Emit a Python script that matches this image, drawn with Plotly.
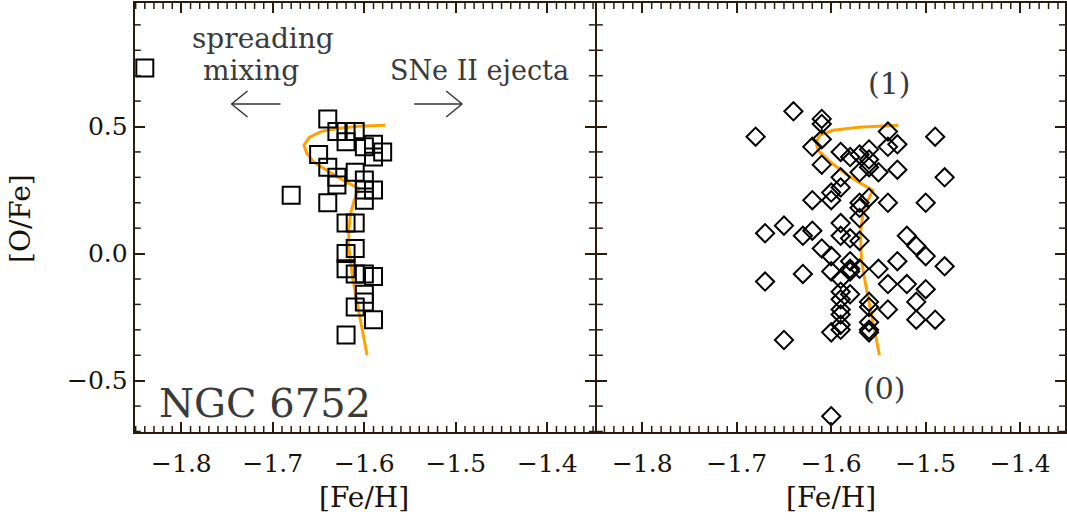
import plotly.graph_objects as go

# ---- left panel: NGC 6752 stars ----
feh_left = [-1.64, -1.63, -1.62, -1.61, -1.62, -1.60, -1.59, -1.58, -1.59, -1.65,
            -1.64, -1.63, -1.63, -1.61, -1.60, -1.60, -1.59, -1.60, -1.64, -1.68,
            -1.62, -1.61, -1.62, -1.61, -1.62, -1.61, -1.60, -1.59, -1.60, -1.60,
            -1.61, -1.59, -1.62, -1.84]
ofe_left = [0.53, 0.48, 0.48, 0.48, 0.44, 0.42, 0.43, 0.40, 0.38, 0.39,
            0.34, 0.30, 0.27, 0.32, 0.29, 0.25, 0.25, 0.21, 0.20, 0.23,
            0.12, 0.12, 0.00, 0.02, -0.06, -0.08, -0.08, -0.09, -0.16, -0.19,
            -0.21, -0.26, -0.32, 0.73]

# model track, left panel
model_left_feh = [-1.577, -1.606, -1.627, -1.646, -1.660, -1.666, -1.663, -1.655,
                  -1.638, -1.620, -1.606, -1.611, -1.615, -1.617, -1.617, -1.613,
                  -1.607, -1.598, -1.597]
model_left_ofe = [0.505, 0.501, 0.493, 0.482, 0.458, 0.426, 0.395, 0.359,
                  0.321, 0.282, 0.256, 0.210, 0.159, 0.092, 0.026, -0.092,
                  -0.210, -0.374, -0.400]

# ---- right panel: simulated stars ----
feh_right = [-1.64, -1.68, -1.61, -1.61, -1.61, -1.62, -1.61, -1.59, -1.58, -1.57,
             -1.57, -1.59, -1.59, -1.60, -1.60, -1.62, -1.57, -1.67, -1.65, -1.63,
             -1.62, -1.59, -1.59, -1.58, -1.57, -1.57, -1.57, -1.61, -1.60, -1.60,
             -1.59, -1.58, -1.58, -1.57, -1.58, -1.67, -1.63, -1.59, -1.58, -1.59,
             -1.59, -1.59, -1.59, -1.60, -1.59, -1.65, -1.60, -1.56, -1.56,
             -1.54, -1.49, -1.53, -1.54, -1.56, -1.56, -1.55, -1.53, -1.48, -1.56,
             -1.54, -1.50, -1.56, -1.52, -1.51, -1.50, -1.48, -1.53, -1.55, -1.54,
             -1.52, -1.50, -1.51, -1.56, -1.54, -1.51, -1.49, -1.56, -1.56]
ofe_right = [0.56, 0.46, 0.53, 0.51, 0.45, 0.42, 0.35, 0.40, 0.38, 0.39,
             0.32, 0.30, 0.26, 0.24, 0.21, 0.21, 0.20, 0.08, 0.11, 0.07,
             0.09, 0.12, 0.07, 0.06, 0.05, 0.18, 0.14, 0.02, -0.01, -0.07,
             -0.10, -0.06, -0.07, -0.06, -0.03, -0.11, -0.08, -0.15, -0.16, -0.18,
             -0.22, -0.24, -0.28, -0.31, -0.30, -0.34, -0.64, -0.21, -0.30,
             0.48, 0.46, 0.43, 0.42, 0.41, 0.37, 0.32, 0.33, 0.30, 0.34,
             0.20, 0.20, 0.22, 0.07, 0.03, -0.01, -0.05, -0.03, -0.06, -0.12,
             -0.12, -0.14, -0.19, -0.19, -0.22, -0.26, -0.26, -0.27, -0.31]

# model track, right panel
model_right_feh = [-1.529, -1.571, -1.598, -1.612, -1.616, -1.614, -1.603, -1.587,
                   -1.571, -1.556, -1.561, -1.566, -1.569, -1.568, -1.563, -1.556,
                   -1.549]
model_right_ofe = [0.505, 0.497, 0.485, 0.466, 0.438, 0.407, 0.367, 0.320,
                   0.281, 0.249, 0.210, 0.171, 0.080, -0.026, -0.133, -0.263,
                   -0.400]

x_ticks = [-1.8, -1.7, -1.6, -1.5, -1.4]
x_tick_text = ["\u22121.8", "\u22121.7", "\u22121.6", "\u22121.5", "\u22121.4"]
y_ticks = [-0.5, 0.0, 0.5]
y_tick_text = ["\u22120.5", "0.0", "0.5"]

W, H = 1067, 523
FONT = "DejaVu Serif"
AX = "#2a1c0c"
ORANGE = "#ffa200"


def px(x):
    return x / W


def py(y):
    return 1 - y / H


fig = go.Figure()

fig.add_trace(go.Scatter(x=model_left_feh, y=model_left_ofe, mode="lines",
                         line=dict(color=ORANGE, width=3), xaxis="x", yaxis="y",
                         showlegend=False, hoverinfo="skip"))
fig.add_trace(go.Scatter(x=feh_left, y=ofe_left, mode="markers",
                         marker=dict(symbol="square-open", size=17, color="black",
                                     line=dict(width=2, color="black")),
                         xaxis="x", yaxis="y", showlegend=False, cliponaxis=False))
fig.add_trace(go.Scatter(x=model_right_feh, y=model_right_ofe, mode="lines",
                         line=dict(color=ORANGE, width=3), xaxis="x2", yaxis="y2",
                         showlegend=False, hoverinfo="skip"))
fig.add_trace(go.Scatter(x=feh_right, y=ofe_right, mode="markers",
                         marker=dict(symbol="diamond-open", size=14, color="black",
                                     line=dict(width=2, color="black")),
                         xaxis="x2", yaxis="y2", showlegend=False, cliponaxis=False))

tickfont = dict(family=FONT, size=25, color="#1a1208")
frame = dict(showline=True, linecolor=AX, linewidth=2, mirror="ticks",
             showgrid=False, zeroline=False, ticks="inside", tickcolor=AX,
             ticklen=10, tickwidth=2, tickfont=tickfont)

XL = [px(135), px(596)]
XR = [px(598), 1.0]
YD = [py(432), py(3)]
RX_L = [-1.851, -1.348]
RX_R = [-1.848, -1.3526]
RY = [-0.702, 0.986]

fig.update_layout(
    width=W, height=H,
    margin=dict(l=0, r=0, t=0, b=0),
    paper_bgcolor="white", plot_bgcolor="white",
    xaxis=dict(domain=XL, range=RX_L, anchor="y", tickmode="array",
               tickvals=x_ticks, ticktext=x_tick_text, ticklabelstandoff=8, **frame),
    xaxis2=dict(domain=XR, range=RX_R, anchor="y2", tickmode="array",
                tickvals=x_ticks, ticktext=x_tick_text, ticklabelstandoff=8, **frame),
    yaxis=dict(domain=YD, range=RY, anchor="x", tickmode="array",
               tickvals=y_ticks, ticktext=y_tick_text, **frame),
    yaxis2=dict(domain=YD, range=RY, anchor="x2", tickmode="array",
                tickvals=y_ticks, ticktext=y_tick_text, showticklabels=False,
                **{k: v for k, v in frame.items() if k != "tickfont"}),
)

# minor ticks drawn along every side of both frames
plot_w = {"x": XL[1] - XL[0], "x2": XR[1] - XR[0]}
plot_h = (YD[1] - YD[0]) * H
minor_len = 6
for xa, ya, rng in [("x", "y", RX_L), ("x2", "y2", RX_R)]:
    xv = [round(-1.86 + 0.01 * i, 2) for i in range(52)]
    xv = [v for v in xv if rng[0] < v < rng[1] and round(v * 10, 6) % 1 != 0]
    f = minor_len / plot_h
    for v in xv:
        for (a, b) in [(0, f), (1 - f, 1)]:
            fig.add_shape(type="line", xref=xa, yref=f"{ya} domain", x0=v, x1=v,
                          y0=a, y1=b, line=dict(color=AX, width=1.5), layer="above")
    yv = [round(-0.7 + 0.1 * i, 1) for i in range(17)]
    yv = [v for v in yv if RY[0] < v < RY[1] and round(v * 2, 6) % 1 != 0]
    g = minor_len / (plot_w[xa] * W)
    for v in yv:
        for (a, b) in [(0, g), (1 - g, 1)]:
            fig.add_shape(type="line", xref=f"{xa} domain", yref=ya, x0=a, x1=b,
                          y0=v, y1=v, line=dict(color=AX, width=1.5), layer="above")

txt = "#3a3a3a"
annots = [
    dict(x=px(263), y=py(38), text="spreading", font=dict(family=FONT, size=28, color=txt)),
    dict(x=px(251), y=py(70), text="mixing", font=dict(family=FONT, size=28, color=txt)),
    dict(x=px(480), y=py(70), text="SNe II ejecta", font=dict(family=FONT, size=27, color=txt)),
    dict(x=px(265), y=py(403), text="NGC 6752", font=dict(family=FONT, size=40, color=txt)),
    dict(x=px(891), y=py(83), text="(1)", font=dict(family=FONT, size=30, color=txt)),
    dict(x=px(886), y=py(388), text="(0)", font=dict(family=FONT, size=30, color=txt)),
    dict(x=px(365), y=py(497), text="[Fe/H]", font=dict(family=FONT, size=28, color="#1a1208")),
    dict(x=px(833), y=py(497), text="[Fe/H]", font=dict(family=FONT, size=28, color="#1a1208")),
    dict(x=px(20), y=py(218), text="[O/Fe]", textangle=-90,
         font=dict(family=FONT, size=28, color="#1a1208")),
]
for a in annots:
    fig.add_annotation(xref="paper", yref="paper", showarrow=False,
                       xanchor="center", yanchor="middle", **a)

# direction arrows with open chevron heads
arrow_col = "#333333"
for (x0, x1) in [(281, 232), (415, 463)]:
    yy = 104
    fig.add_shape(type="line", xref="paper", yref="paper",
                  x0=px(x0), x1=px(x1), y0=py(yy), y1=py(yy),
                  line=dict(color=arrow_col, width=1.5))
    d = 16 if x1 < x0 else -16
    for dy in (-13, 13):
        fig.add_shape(type="line", xref="paper", yref="paper",
                      x0=px(x1), y0=py(yy), x1=px(x1 + d), y1=py(yy + dy),
                      line=dict(color=arrow_col, width=1.5))

fig.write_html("out.html")
